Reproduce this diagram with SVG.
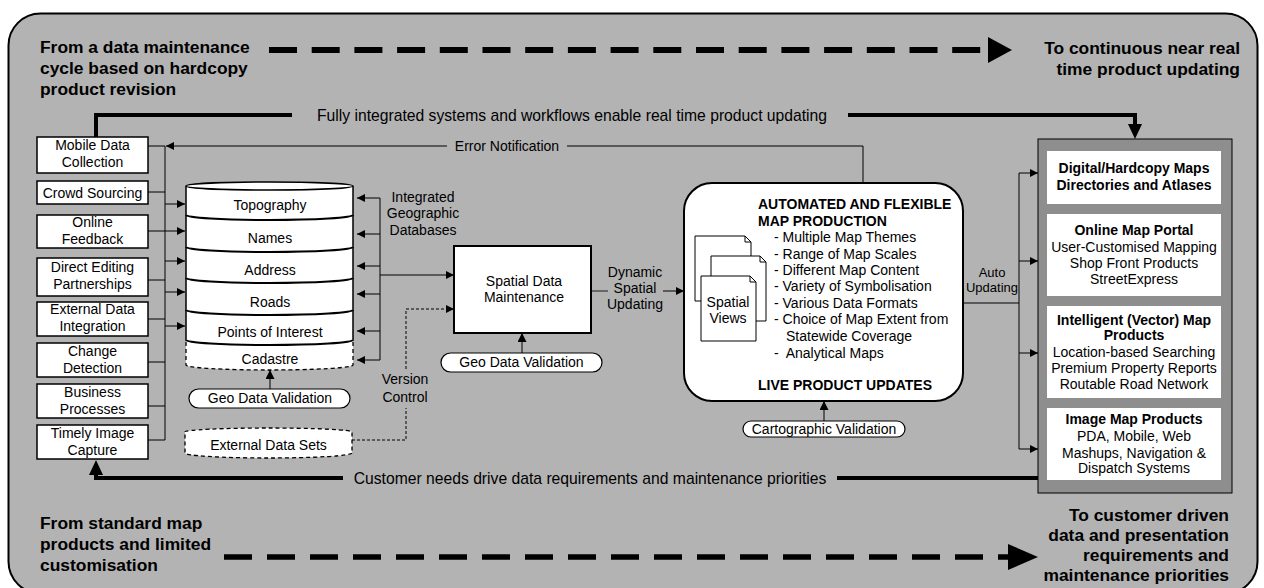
<svg xmlns="http://www.w3.org/2000/svg" width="1264" height="588" viewBox="0 0 1264 588">
<defs>
<style>
text{font-family:"Liberation Sans",Arial,Helvetica,sans-serif;font-size:14px;fill:#000}
.c{text-anchor:middle}
.e{text-anchor:end}
.b{font-weight:bold}
.big{font-size:17.4px;font-weight:bold}
.lbl{font-size:15.7px}
.sm{font-size:13px}
.box{fill:#fff;stroke:#000;stroke-width:1.5}
.ln{fill:none;stroke:#000;stroke-width:1}
.dl{fill:none;stroke:#000;stroke-width:1;stroke-dasharray:3 2}
.thick{fill:none;stroke:#000;stroke-width:4}
.pill{fill:#fff;stroke:#000;stroke-width:1.2}
</style>
<marker id="ah" viewBox="0 0 10 10" refX="10" refY="5" markerWidth="9" markerHeight="8" markerUnits="userSpaceOnUse" orient="auto">
<path d="M0,0 L10,5 L0,10 Z" fill="#000"/>
</marker>
<marker id="ahu" viewBox="0 0 10 10" refX="10" refY="5" markerWidth="12" markerHeight="9" markerUnits="userSpaceOnUse" orient="auto">
<path d="M0,0 L10,5 L0,10 Z" fill="#000"/>
</marker>
</defs>

<g id="frame">
<rect x="8.5" y="13.5" width="1249" height="580" rx="32" fill="#b3b3b3" stroke="#000" stroke-width="2"/>
</g>

<g id="transition-texts">
<text class="big" x="40" y="53">From a data maintenance</text>
<text class="big" x="40" y="74">cycle based on hardcopy</text>
<text class="big" x="40" y="95">product revision</text>
<text class="big e" x="1240" y="54">To continuous near real</text>
<text class="big e" x="1240" y="75">time product updating</text>
<text class="big" x="40" y="529">From standard map</text>
<text class="big" x="40" y="550">products and limited</text>
<text class="big" x="40" y="571">customisation</text>
<text class="big e" x="1229" y="521">To customer driven</text>
<text class="big e" x="1229" y="541">data and presentation</text>
<text class="big e" x="1229" y="561">requirements and</text>
<text class="big e" x="1229" y="581">maintenance priorities</text>
</g>

<g id="transition-arrows">
<path d="M269,50 H982" fill="none" stroke="#000" stroke-width="6" stroke-dasharray="28 14.7"/>
<polygon points="988,37 988,63 1012,50" fill="#000"/>
<path d="M224,557 H1010" fill="none" stroke="#000" stroke-width="5.5" stroke-dasharray="28 15"/>
<polygon points="1008,544 1008,570 1038,557" fill="#000"/>
</g>

<g id="connectors">
<path class="ln" d="M148,146 H165 M148,192 H165 M148,280 H165 M148,319 H165 M148,362 H165 M148,406 H165 M148,440 H165 M165,146 V440"/>
<path class="ln" d="M148,231 H185" marker-end="url(#ah)"/>
<path class="ln" d="M165,204 H185" marker-end="url(#ah)"/>
<path class="ln" d="M165,261 H185" marker-end="url(#ah)"/>
<path class="ln" d="M165,292 H185" marker-end="url(#ah)"/>
<path class="ln" d="M165,326 H185" marker-end="url(#ah)"/>
<path class="ln" d="M863,183 V146 H567"/>
<path class="ln" d="M447,146 H166" marker-end="url(#ah)"/>
<path class="ln" d="M380,198 V360"/>
<path class="ln" d="M380,198 H357" marker-end="url(#ah)"/>
<path class="ln" d="M380,234 H357" marker-end="url(#ah)"/>
<path class="ln" d="M380,266 H357" marker-end="url(#ah)"/>
<path class="ln" d="M380,294 H357" marker-end="url(#ah)"/>
<path class="ln" d="M380,331 H357" marker-end="url(#ah)"/>
<path class="ln" d="M380,360 H357" marker-end="url(#ah)"/>
<path class="ln" d="M380,275 H454" marker-end="url(#ah)"/>
<path class="dl" d="M352,440 H406 V408"/>
<path class="dl" d="M406,369 V309 H454" marker-end="url(#ah)"/>
<path class="ln" d="M270,389 V370" marker-end="url(#ahu)"/>
<path class="ln" d="M522,353 V333" marker-end="url(#ahu)"/>
<path class="ln" d="M824,421 V401" marker-end="url(#ahu)"/>
<path d="M591,291 H608" fill="none" stroke="#333" stroke-width="1.2"/>
<path class="ln" d="M663,291 H684" marker-end="url(#ah)"/>
<path class="ln" d="M963,303 H1019 M1019,173 V449"/>
<path class="ln" d="M1019,173 H1038" marker-end="url(#ah)"/>
<path class="ln" d="M1019,261 H1038" marker-end="url(#ah)"/>
<path class="ln" d="M1019,353 H1038" marker-end="url(#ah)"/>
<path class="ln" d="M1019,449 H1038" marker-end="url(#ah)"/>
<path class="thick" d="M96,137 V115 H292"/>
<path class="thick" d="M848,115 H1135 V125"/>
<polygon points="1128,124 1142,124 1135,139" fill="#000"/>
<path class="thick" d="M1038,478 H837"/>
<path class="thick" d="M343,478 H96 V474"/>
<polygon points="89,475 103,475 96,460" fill="#000"/>
</g>

<g id="connector-labels">
<text class="lbl c" x="572" y="120.5">Fully integrated systems and workflows enable real time product updating</text>
<text class="lbl c" x="590" y="483.5">Customer needs drive data requirements and maintenance priorities</text>
<text class="c" x="507" y="151">Error Notification</text>
<text class="c" x="423" y="202">Integrated</text>
<text class="c" x="423" y="218">Geographic</text>
<text class="c" x="423" y="235">Databases</text>
<text class="c" x="405" y="384">Version</text>
<text class="c" x="405" y="402">Control</text>
<text class="c" x="635" y="277">Dynamic</text>
<text class="c" x="635" y="293">Spatial</text>
<text class="c" x="635" y="309">Updating</text>
<text class="c sm" x="992" y="277">Auto</text>
<text class="c sm" x="992" y="292">Updating</text>
</g>

<g id="mobile-data-collection"><rect class="box" x="37" y="137" width="111" height="36"/><text class="c" x="92.5" y="150">Mobile Data</text><text class="c" x="92.5" y="167">Collection</text></g>
<g id="crowd-sourcing"><rect class="box" x="37" y="181" width="111" height="23"/><text class="c" x="92.5" y="197.5">Crowd Sourcing</text></g>
<g id="online-feedback"><rect class="box" x="37" y="215" width="111" height="33"/><text class="c" x="92.5" y="227">Online</text><text class="c" x="92.5" y="243.5">Feedback</text></g>
<g id="direct-editing"><rect class="box" x="37" y="258" width="111" height="38"/><text class="c" x="92.5" y="272">Direct Editing</text><text class="c" x="92.5" y="289">Partnerships</text></g>
<g id="external-data-integration"><rect class="box" x="37" y="302" width="111" height="34"/><text class="c" x="92.5" y="314">External Data</text><text class="c" x="92.5" y="331">Integration</text></g>
<g id="change-detection"><rect class="box" x="37" y="343" width="111" height="34"/><text class="c" x="92.5" y="356">Change</text><text class="c" x="92.5" y="372.5">Detection</text></g>
<g id="business-processes"><rect class="box" x="37" y="384" width="111" height="34"/><text class="c" x="92.5" y="397">Business</text><text class="c" x="92.5" y="413.5">Processes</text></g>
<g id="timely-image-capture"><rect class="box" x="37" y="425" width="111" height="34"/><text class="c" x="92.5" y="438">Timely Image</text><text class="c" x="92.5" y="454.5">Capture</text></g>

<g id="database">
<path d="M186,186 H353 V340 A83.5,5 0 0 1 186,340 Z" fill="#fff"/>
<path d="M186,340 A83.5,5 0 0 0 353,340 V365 A83.5,5 0 0 1 186,365 Z" fill="#fff"/>
<path d="M186,186 V340 M353,186 V340" fill="none" stroke="#000" stroke-width="1.5"/>
<ellipse cx="269.5" cy="186" rx="83.5" ry="4" fill="#fff" stroke="#000" stroke-width="1.5"/>
<path d="M186,215 A83.5,5 0 0 0 353,215 M186,247 A83.5,5 0 0 0 353,247 M186,278 A83.5,5 0 0 0 353,278 M186,310 A83.5,5 0 0 0 353,310 M186,340 A83.5,5 0 0 0 353,340" fill="none" stroke="#000" stroke-width="2"/>
<path d="M186,342 V365 A83.5,5 0 0 0 353,365 V342" fill="none" stroke="#000" stroke-width="1.3" stroke-dasharray="4 3"/>
<text class="c" x="270" y="210">Topography</text>
<text class="c" x="270" y="243">Names</text>
<text class="c" x="270" y="275">Address</text>
<text class="c" x="270" y="307">Roads</text>
<text class="c" x="270" y="337">Points of Interest</text>
<text class="c" x="270" y="364">Cadastre</text>
</g>

<g id="geo-data-validation-1"><rect class="pill" x="189" y="389" width="161" height="19" rx="9.5"/><text class="c" x="270" y="403">Geo Data Validation</text></g>

<g id="external-data-sets">
<path d="M185,432 A83.5,4 0 0 1 352,432 V453 A83.5,5 0 0 1 185,453 Z" fill="#fff" stroke="#000" stroke-width="1.3" stroke-dasharray="4 3"/>
<text class="c" x="268.5" y="450">External Data Sets</text>
</g>

<g id="spatial-data-maintenance"><rect x="454" y="246" width="137" height="87" fill="#fff" stroke="#000" stroke-width="2"/><text class="c" x="524" y="286">Spatial Data</text><text class="c" x="524" y="301.5">Maintenance</text></g>

<g id="geo-data-validation-2"><rect class="pill" x="441" y="353" width="161" height="19" rx="9.5"/><text class="c" x="521.5" y="367">Geo Data Validation</text></g>

<g id="map-production">
<rect x="684" y="183" width="279" height="218" rx="28" fill="#fff" stroke="#000" stroke-width="2"/>
<g fill="#fff" stroke="#000" stroke-width="1">
<path d="M695,236 H745 L751,242 V301 H695 Z M745,236 V242 H751"/>
<path d="M711,256 H760 L766,262 V321 H711 Z M760,256 V262 H766"/>
<path d="M701,276 H750 L756,282 V341 H701 Z M750,276 V282 H756"/>
</g>
<text class="c" x="728" y="307">Spatial</text>
<text class="c" x="728" y="323">Views</text>
<text class="b" x="758" y="209">AUTOMATED AND FLEXIBLE</text>
<text class="b" x="758" y="226">MAP PRODUCTION</text>
<text x="774" y="242">- Multiple Map Themes</text>
<text x="774" y="259">- Range of Map Scales</text>
<text x="774" y="275">- Different Map Content</text>
<text x="774" y="291">- Variety of Symbolisation</text>
<text x="774" y="308">- Various Data Formats</text>
<text x="774" y="324">- Choice of Map Extent from</text>
<text x="786" y="341">Statewide Coverage</text>
<text x="774" y="358" xml:space="preserve">-  Analytical Maps</text>
<text class="b" x="758" y="390">LIVE PRODUCT UPDATES</text>
</g>

<g id="cartographic-validation"><rect class="pill" x="743" y="421" width="162" height="16" rx="8"/><text class="c" x="824" y="434">Cartographic Validation</text></g>

<g id="products">
<rect x="1038" y="139" width="194" height="354" fill="#8e8e8e" stroke="#000" stroke-width="1"/>
<rect x="1047" y="151" width="174" height="53" fill="#fff"/>
<rect x="1047" y="214" width="174" height="82" fill="#fff"/>
<rect x="1047" y="306" width="174" height="92" fill="#fff"/>
<rect x="1047" y="408" width="174" height="72" fill="#fff"/>
<text class="c b" x="1134" y="173">Digital/Hardcopy Maps</text>
<text class="c b" x="1134" y="190">Directories and Atlases</text>
<text class="c b" x="1134" y="235">Online Map Portal</text>
<text class="c" x="1134" y="252">User-Customised Mapping</text>
<text class="c" x="1134" y="268">Shop Front Products</text>
<text class="c" x="1134" y="284">StreetExpress</text>
<text class="c b" x="1134" y="325">Intelligent (Vector) Map</text>
<text class="c b" x="1134" y="340">Products</text>
<text class="c" x="1134" y="357">Location-based Searching</text>
<text class="c" x="1134" y="373">Premium Property Reports</text>
<text class="c" x="1134" y="389">Routable Road Network</text>
<text class="c b" x="1134" y="424">Image Map Products</text>
<text class="c" x="1134" y="441">PDA, Mobile, Web</text>
<text class="c" x="1134" y="458">Mashups, Navigation &amp;</text>
<text class="c" x="1134" y="473">Dispatch Systems</text>
</g>
</svg>
